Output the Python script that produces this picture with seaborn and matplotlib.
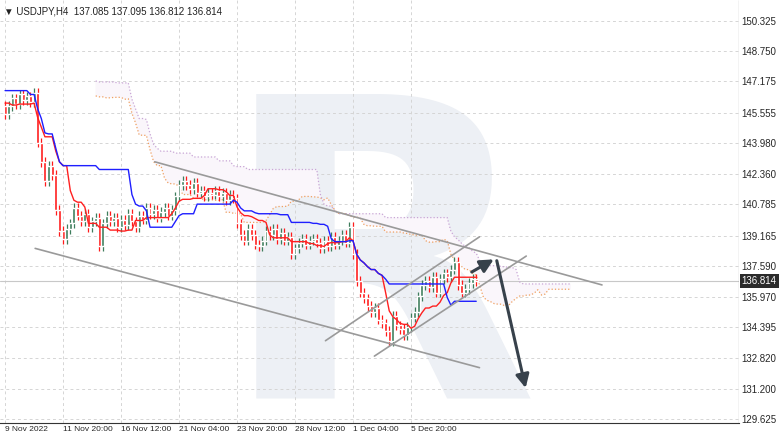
import numpy as np
import pandas as pd
import matplotlib
matplotlib.use("Agg")
import matplotlib.pyplot as plt
import seaborn as sns

# H4 closes, 9 Nov 04:00 .. 8 Dec 2022
closes = [
    145.5, 145.9, 146.3, 146.0, 146.5, 146.2, 146.4, 146.1, 146.6,
    144.0, 143.0, 142.0, 142.8, 142.3, 140.5, 139.4, 139.0,
    139.5, 139.8, 140.6, 140.2, 139.9, 140.3, 139.6, 139.9, 140.1, 138.6,
    139.8, 140.2, 139.9, 140.1, 139.6, 140.0, 139.7, 140.3, 139.9, 139.6, 140.2, 140.0,
    140.6, 140.3, 140.5, 140.1, 140.4, 140.6, 140.2, 140.5, 141.2, 141.8,
    142.0, 141.8, 141.6, 141.9, 141.4, 141.5, 141.2, 141.4, 141.3, 141.5,
    141.2, 141.4, 141.0, 141.3, 141.1,
    139.8, 139.2, 138.9, 139.5, 139.2, 138.7, 138.6, 138.9, 139.4,
    139.2, 139.5, 139.0, 139.3, 138.9, 139.1, 138.2, 138.5, 138.8, 139.0, 138.7, 138.9,
    139.0, 138.8, 138.5, 138.9, 138.6, 139.1, 138.7, 138.9, 139.2, 138.8, 139.6,
    138.2, 136.8, 136.2, 135.9, 135.5, 135.2, 135.4, 134.8, 134.6, 134.2, 133.7,
    135.0, 134.5, 134.3, 134.0, 134.4, 134.9, 135.2, 136.0, 136.6,
    136.8, 136.5, 137.0, 136.2, 136.9, 137.2, 137.0, 137.4, 137.8,
    136.6, 136.2, 136.4, 136.7, 136.9, 136.814,
]
# earlier history (early Nov), only used to warm up the Ichimoku lines
history = [
    147.8, 148.2, 148.6, 148.3, 148.8, 148.5, 148.0, 148.4, 148.7, 148.2, 147.9, 148.3, 148.5,
    148.1, 147.6, 148.0, 148.4, 147.8, 147.4, 147.7, 148.1, 147.5, 147.1, 147.4, 147.8, 147.3,
    146.9, 147.3, 147.8, 147.4, 147.0, 147.5, 147.9, 147.3, 146.8, 147.1, 147.5, 147.0, 146.6,
    146.5, 146.9, 146.3, 145.9, 146.2, 146.6, 146.0, 145.7, 146.1, 146.4, 145.9, 145.6, 145.9,
]
y_ticks = [150.325, 148.750, 147.175, 145.555, 143.980, 142.360, 140.785,
           139.165, 137.590, 135.970, 134.395, 132.820, 131.200, 129.625]
title = "USDJPY,H4  137.085 137.095 136.812 136.814"

# drawn objects (bar index, price)
trend_lines = [
    ((41.3, 143.0), (164.7, 136.6)),
    ((8.3, 138.5), (130.9, 132.3)),
    ((101.9, 132.9), (143.8, 138.1)),
    ((88.4, 133.7), (130.9, 139.1)),
]
arrows = [((128.1, 137.2), (135.5, 138.0)), ((135.5, 138.0), (143.8, 131.1))]

# ---- build OHLC
allc = np.array(history + closes)
opens = np.r_[allc[0], allc[:-1]]
highs = np.maximum(opens, allc) + 0.25
lows = np.minimum(opens, allc) - 0.25
nh = len(history)
idx = np.arange(len(allc)) - nh
df = pd.DataFrame({"i": idx, "o": opens, "h": highs, "l": lows, "c": allc})

hi, lo = df["h"], df["l"]
df["tenkan"] = (hi.rolling(9).max() + lo.rolling(9).min()) / 2
df["kijun"] = (hi.rolling(26).max() + lo.rolling(26).min()) / 2
span_a = (df["tenkan"] + df["kijun"]) / 2
span_b = (hi.rolling(52).max() + lo.rolling(52).min()) / 2
cloud = pd.DataFrame({"i": df["i"] + 26, "a": span_a, "b": span_b}).dropna()
cloud = cloud[cloud["i"] >= -2]
vis = df[df["i"] >= 0]

# bar dates for tick labels
dates = []
t = pd.Timestamp("2022-11-09 04:00")
while len(dates) < len(closes):
    if t.weekday() < 5:
        dates.append(t)
    t += pd.Timedelta(hours=4)

sns.set_style("white")
plt.rcParams["font.family"] = ["Liberation Sans", "DejaVu Sans"]
plt.rcParams["hatch.linewidth"] = 1.0
plt.rcParams["hatch.color"] = "#c6a3d6"
fig = plt.figure(figsize=(7.82, 4.43), dpi=100)
ax = fig.add_axes([0.0, 0.045, 0.945, 0.955])

# watermark
ax.text(0.295, 0.06, "R", transform=ax.transAxes, fontsize=300, fontweight="bold",
        color="#edf0f5", zorder=0, ha="left", va="baseline", family="DejaVu Sans",
        clip_on=True)

ax.fill_between(cloud["i"], cloud["a"], cloud["b"], facecolor="#faf6fb",
                edgecolor="#c6a3d6", hatch=":::", linewidth=0.01, zorder=1)
sns.lineplot(x=cloud["i"], y=cloud["a"], ax=ax, color="#f0a060", lw=0.9, ls=":")
sns.lineplot(x=cloud["i"], y=cloud["b"], ax=ax, color="#c9a6d6", lw=0.9, ls=":")

up = vis["c"] >= vis["o"]
col = np.where(up, "#3e7d5c", "#ff1a1a")
ax.vlines(vis["i"], vis["l"], vis["h"], colors=col, lw=0.9, zorder=3)
ax.bar(vis["i"], (vis["c"] - vis["o"]).abs().clip(lower=0.06),
       bottom=np.minimum(vis["o"], vis["c"]), width=0.8, color=col, zorder=4)

sns.lineplot(x=vis["i"], y=vis["tenkan"], ax=ax, color="#ff2020", lw=1.0, zorder=5)
sns.lineplot(x=vis["i"], y=vis["kijun"], ax=ax, color="#1f1fff", lw=1.0, zorder=5)

for (x0, y0), (x1, y1) in trend_lines:
    ax.plot([x0, x1], [y0, y1], color="#9a9a9a", lw=1.2, zorder=6)
for (x0, y0), (x1, y1) in arrows:
    ax.annotate("", xy=(x1, y1), xytext=(x0, y0), zorder=7,
                arrowprops=dict(arrowstyle="-|>,head_length=0.8,head_width=0.4",
                                color="#37414b", lw=2.2))

ax.axhline(136.814, color="#c8c8c8", lw=0.8, zorder=1)

ax.set_xlim(-1.4, 202.5)
ax.set_ylim(129.42, 151.41)
ax.yaxis.tick_right()
ax.set_yticks(y_ticks)
ax.set_yticklabels([f"{v:.3f}" for v in y_ticks], fontsize=7)
tick_i = list(range(0, len(closes) - 8, 16))
ax.set_xticks(tick_i)
labels = [f"{dates[k].day} {dates[k]:%b %H:%M}" for k in tick_i]
labels[0] = "9 Nov 2022"
ax.set_xticklabels(labels, fontsize=6.0, ha="left")
ax.tick_params(length=0, pad=2)
ax.grid(True, color="#d5d5d5", ls=(0, (3, 3)), lw=0.7)
for s in ["top", "right", "left"]:
    ax.spines[s].set_visible(False)
ax.spines["bottom"].set_color("#333333")
ax.axvline(202.5, color="#333333", lw=0.8)
ax.set_xlabel("")
ax.set_ylabel("")

ax.annotate("136.814", xy=(1.0, 136.814), xycoords=("axes fraction", "data"),
            xytext=(2, 0), textcoords="offset points", fontsize=7, color="white",
            va="center", ha="left",
            bbox=dict(boxstyle="square,pad=0.2", fc="#2b2b2b", ec="none"))
ax.text(0.005, 0.985, "\u25bc " + title, transform=ax.transAxes, fontsize=7,
        va="top", ha="left", color="#222222")

fig.savefig("out.png", dpi=100)
